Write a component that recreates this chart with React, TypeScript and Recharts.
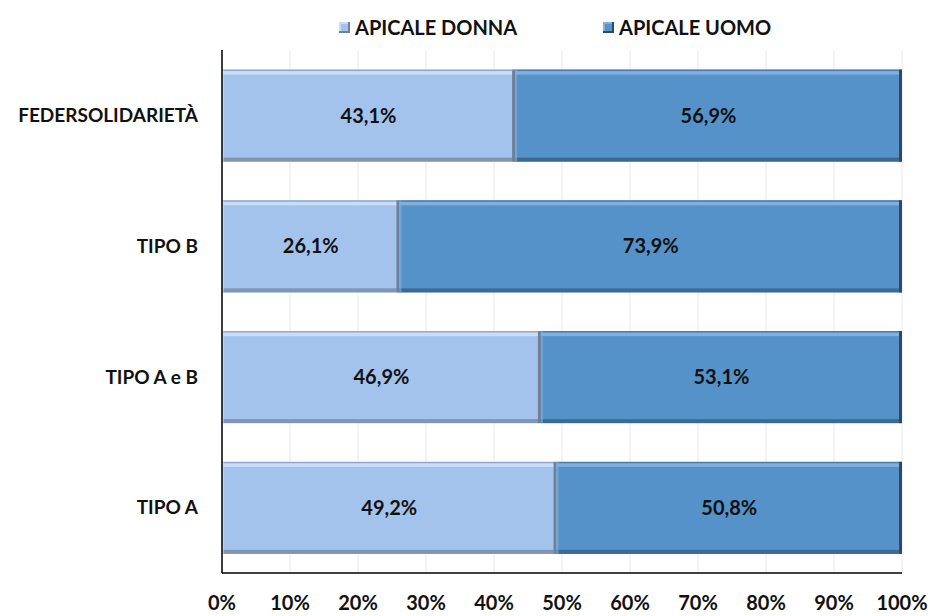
import React from "react";
import { BarChart, Bar, XAxis, YAxis, CartesianGrid, LabelList } from "recharts";

const categories = ["FEDERSOLIDARIETÀ", "TIPO B", "TIPO A e B", "TIPO A"];
const donna = [43.1, 26.1, 46.9, 49.2];
const uomo = [56.9, 73.9, 53.1, 50.8];
const xTicks = [0, 10, 20, 30, 40, 50, 60, 70, 80, 90, 100];
const seriesNames = ["APICALE DONNA", "APICALE UOMO"];

const data = categories.map((c, i) => ({ name: c, donna: donna[i], uomo: uomo[i] }));

const FONT = "Lato, 'Open Sans', sans-serif";

const palettes: Record<string, { base: string; top: string; edge: string; bottom: string; right: string }> = {
  donna: { base: "#A3C3EC", top: "#C9DDF6", edge: "#8EA9CC", bottom: "#7E95B3", right: "#6E8199" },
  uomo: { base: "#5592C9", top: "#80B0DE", edge: "#4A7CAB", bottom: "#3D6A95", right: "#2C4A68" },
};

const makeShape = (key: string) => (props: any) => {
  const { x, y, width, height } = props;
  const p = palettes[key];
  if (width <= 0 || height <= 0) return null;
  return (
    <g>
      <rect x={x} y={y} width={width} height={height} fill={p.base} />
      <rect x={x} y={y} width={width} height={1.5} fill={p.edge} />
      <rect x={x} y={y + 1.5} width={width} height={3.5} fill={p.top} />
      <rect x={x} y={y + height - 4} width={width} height={4} fill={p.bottom} />
      <rect x={x} y={y} width={2} height={height} fill={p.top} opacity={0.6} />
      <rect x={x + width - 3} y={y} width={3} height={height} fill={p.right} />
    </g>
  );
};

const fmt = (v: any) => Number(v).toFixed(1).replace(".", ",") + "%";

const LegendIcon = ({ k }: { k: string }) => {
  const p = palettes[k];
  return (
    <svg width={11} height={11} style={{ marginRight: 5 }}>
      <rect x={0} y={0} width={11} height={11} fill={p.top} />
      <rect x={2} y={2} width={7} height={7} fill={p.base} />
      <rect x={0} y={9} width={11} height={2} fill={p.right} />
      <rect x={9} y={0} width={2} height={11} fill={p.right} />
    </svg>
  );
};

export default function App() {
  return (
    <div style={{ position: "absolute", left: 0, top: 0, width: 930, height: 616, background: "#fff" }}>
      <BarChart
        width={930}
        height={616}
        data={data}
        layout="vertical"
        margin={{ top: 50, right: 28, left: 0, bottom: 0 }}
        barCategoryGap="15%"
        style={{ fontFamily: FONT }}
      >
        <CartesianGrid horizontal={false} vertical stroke="#E8E8E8" />
        <XAxis
          type="number"
          domain={[0, 100]}
          ticks={xTicks}
          tickFormatter={(v) => `${v}%`}
          axisLine={{ stroke: "#000", strokeWidth: 1.5 }}
          tickLine={false}
          height={43}
          tickMargin={17}
          interval={0}
          tick={{ fill: "#111", fontSize: 20, fontWeight: 700, fontFamily: FONT }}
        />
        <YAxis
          type="category"
          dataKey="name"
          width={222}
          axisLine={{ stroke: "#000", strokeWidth: 1.5 }}
          tickLine={false}
          tickMargin={18}
          tick={{ fill: "#111", fontSize: 19, fontWeight: 700, fontFamily: FONT }}
        />
        <Bar dataKey="donna" stackId="a" isAnimationActive={false} shape={makeShape("donna")}>
          <LabelList dataKey="donna" position="center" formatter={fmt} fill="#111" fontSize={20} fontWeight={700} fontFamily={FONT} />
        </Bar>
        <Bar dataKey="uomo" stackId="a" isAnimationActive={false} shape={makeShape("uomo")}>
          <LabelList dataKey="uomo" position="center" formatter={fmt} fill="#111" fontSize={20} fontWeight={700} fontFamily={FONT} />
        </Bar>
      </BarChart>
      <div
        style={{
          position: "absolute",
          left: 339,
          top: 15,
          display: "flex",
          alignItems: "center",
          fontFamily: FONT,
          fontWeight: 700,
          fontSize: 20,
          lineHeight: "24px",
          color: "#111",
          whiteSpace: "nowrap",
        }}
      >
        <div style={{ display: "flex", alignItems: "center", width: 264 }}>
          <LegendIcon k="donna" />
          <span>{seriesNames[0]}</span>
        </div>
        <div style={{ display: "flex", alignItems: "center" }}>
          <LegendIcon k="uomo" />
          <span>{seriesNames[1]}</span>
        </div>
      </div>
    </div>
  );
}
